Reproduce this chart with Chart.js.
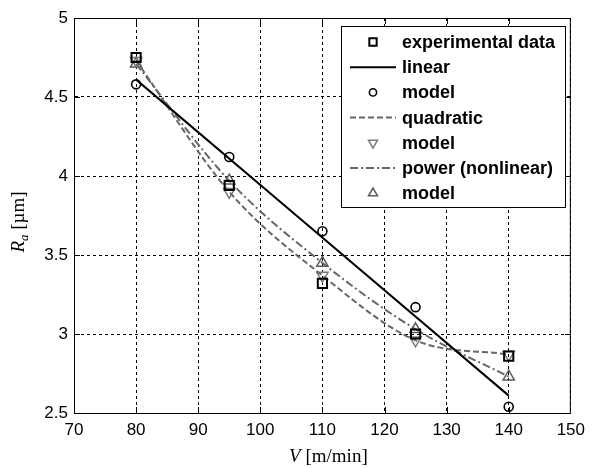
<!DOCTYPE html>
<html>
<head>
<meta charset="utf-8">
<script src="https://cdn.jsdelivr.net/npm/chart.js@4/dist/chart.umd.min.js"></script>
<style>
  html, body { margin: 0; padding: 0; background: #fff; }
  #wrap { width: 592px; height: 468px; }
</style>
</head>
<body>
<div id="wrap"><canvas id="chart" width="592" height="468"></canvas></div>
<script>
// Surface roughness Ra vs cutting speed V
const speeds = [80, 95, 110, 125, 140];
const experimental = [4.75, 3.94, 3.32, 3.00, 2.86];
const linearModel = [4.58, 4.12, 3.65, 3.17, 2.54];
const linearFitV = [80, 140];
const linearFitRa = [4.61, 2.61];
const quadraticModel = [4.73, 3.90, 3.37, 2.96, 2.87];
const powerModel = [4.71, 3.97, 3.45, 3.03, 2.73];
const xTicks = [70, 80, 90, 100, 110, 120, 130, 140, 150];
const yTicks = [2.5, 3, 3.5, 4, 4.5, 5];
const legendLabels = ['experimental data', 'linear', 'model', 'quadratic', 'model', 'power (nonlinear)', 'model'];

const SANS = '"Liberation Sans", Arial, sans-serif';
const LEGEND_FONT = 'bold 18px ' + SANS;
const SERIF = '"Liberation Serif", "Times New Roman", serif';

const toPoints = (xs, ys) => xs.map((x, i) => ({ x, y: ys[i] }));

const styles = [
  { kind: 'marker', pointStyle: 'rect', radius: 6.5, rotation: 0, color: '#000', width: 2 },
  { kind: 'line', color: '#000', width: 2, dash: [] },
  { kind: 'marker', pointStyle: 'circle', radius: 4.5, rotation: 0, color: '#000', width: 1.6 },
  { kind: 'line', color: '#666', width: 2, dash: [6, 3] },
  { kind: 'marker', pointStyle: 'triangle', radius: 6.5, rotation: 180, color: '#7a7a7a', width: 1.5 },
  { kind: 'line', color: '#666', width: 2, dash: [8, 3, 2, 3] },
  { kind: 'marker', pointStyle: 'triangle', radius: 6.5, rotation: 0, color: '#5a5a5a', width: 1.5 }
];

function markerSet(data, s) {
  return {
    data, showLine: false, pointStyle: s.pointStyle, pointRadius: s.radius,
    pointRotation: s.rotation, pointBorderColor: s.color, pointBorderWidth: s.width,
    pointBackgroundColor: 'rgba(0,0,0,0)', borderColor: s.color
  };
}
function lineSet(data, s) {
  return {
    data, showLine: true, borderColor: s.color, borderWidth: s.width, borderDash: s.dash,
    pointRadius: 0, cubicInterpolationMode: 'monotone', fill: false
  };
}

const frameTicks = {
  id: 'frameTicks',
  beforeDatasetsDraw(chart) {
    const { ctx, chartArea: a, scales: { x, y } } = chart;
    ctx.save();
    ctx.strokeStyle = '#000';
    ctx.lineWidth = 1;
    ctx.strokeRect(a.left + 0.5, a.top + 0.5, a.right - a.left - 1, a.bottom - a.top);
    ctx.beginPath();
    xTicks.slice(1, -1).forEach(v => {
      const px = Math.round(x.getPixelForValue(v)) + 0.5;
      ctx.moveTo(px, a.bottom); ctx.lineTo(px, a.bottom - 6);
      ctx.moveTo(px, a.top); ctx.lineTo(px, a.top + 6);
    });
    yTicks.slice(1, -1).forEach(v => {
      const py = Math.round(y.getPixelForValue(v)) + 0.5;
      ctx.moveTo(a.left, py); ctx.lineTo(a.left + 6, py);
      ctx.moveTo(a.right, py); ctx.lineTo(a.right - 6, py);
    });
    ctx.stroke();
    ctx.restore();
  }
};

const legendAndTitles = {
  id: 'legendAndTitles',
  afterDraw(chart) {
    const { ctx, chartArea: a } = chart;
    ctx.save();
    // legend box
    const bx = a.left + 267, by = a.top + 8, bw = 224, bh = 181;
    ctx.fillStyle = '#fff';
    ctx.fillRect(bx, by, bw, bh);
    ctx.strokeStyle = '#000';
    ctx.lineWidth = 1;
    ctx.strokeRect(bx + 0.5, by + 0.5, bw, bh);
    legendLabels.forEach((label, i) => {
      const cy = by + 16 + i * 25.2;
      const s = styles[i];
      if (s.kind === 'line') {
        ctx.save();
        ctx.strokeStyle = s.color;
        ctx.lineWidth = s.width;
        ctx.setLineDash(s.dash);
        ctx.beginPath();
        ctx.moveTo(bx + 9, cy); ctx.lineTo(bx + 55, cy);
        ctx.stroke();
        ctx.restore();
      } else {
        ctx.save();
        ctx.strokeStyle = s.color;
        ctx.fillStyle = 'rgba(0,0,0,0)';
        ctx.lineWidth = s.width;
        Chart.helpers.drawPoint(ctx, {
          pointStyle: s.pointStyle, radius: s.radius * 0.8, rotation: s.rotation, borderWidth: s.width
        }, bx + 32, cy);
        ctx.restore();
      }
      ctx.fillStyle = '#000';
      ctx.font = LEGEND_FONT;
      ctx.textBaseline = 'middle';
      ctx.textAlign = 'left';
      ctx.fillText(label, bx + 61, cy + 1);
    });

    // x title: V [m/min]
    ctx.fillStyle = '#000';
    ctx.textBaseline = 'alphabetic';
    ctx.textAlign = 'left';
    const xt1 = 'V', xt2 = ' [m/min]';
    ctx.font = 'italic 19px ' + SERIF;
    const w1 = ctx.measureText(xt1).width;
    ctx.font = '19px ' + SERIF;
    const w2 = ctx.measureText(xt2).width;
    const xStart = (a.left + a.right) / 2 + 6 - (w1 + w2) / 2;
    const xBase = 462;
    ctx.font = 'italic 19px ' + SERIF;
    ctx.fillText(xt1, xStart, xBase);
    ctx.font = '19px ' + SERIF;
    ctx.fillText(xt2, xStart + w1, xBase);

    // y title: R_a [µm]
    ctx.save();
    ctx.translate(24, 222);
    ctx.rotate(-Math.PI / 2);
    ctx.font = 'italic 19px ' + SERIF;
    const r1 = ctx.measureText('R').width;
    ctx.font = 'italic 13px ' + SERIF;
    const r2 = ctx.measureText('a').width;
    ctx.font = '19px ' + SERIF;
    const r3 = ctx.measureText(' [\u00b5m]').width;
    let tx = -(r1 + r2 + r3) / 2;
    ctx.font = 'italic 19px ' + SERIF;
    ctx.fillText('R', tx, 0);
    ctx.font = 'italic 13px ' + SERIF;
    ctx.fillText('a', tx + r1, 4);
    ctx.font = '19px ' + SERIF;
    ctx.fillText(' [\u00b5m]', tx + r1 + r2, 0);
    ctx.restore();
    ctx.restore();
  }
};

new Chart(document.getElementById('chart'), {
  type: 'line',
  data: {
    datasets: [
      markerSet(toPoints(speeds, experimental), styles[0]),
      lineSet(toPoints(linearFitV, linearFitRa), styles[1]),
      markerSet(toPoints(speeds, linearModel), styles[2]),
      lineSet(toPoints(speeds, quadraticModel), styles[3]),
      markerSet(toPoints(speeds, quadraticModel), styles[4]),
      lineSet(toPoints(speeds, powerModel), styles[5]),
      markerSet(toPoints(speeds, powerModel), styles[6])
    ]
  },
  options: {
    responsive: false,
    animation: false,
    devicePixelRatio: 1,
    layout: { padding: { top: 18, right: 16, left: 0, bottom: 0 } },
    plugins: { legend: { display: false }, tooltip: { enabled: false } },
    scales: {
      x: {
        type: 'linear', min: 70, max: 150,
        afterBuildTicks: (s) => { s.ticks = xTicks.map(v => ({ value: v })); },
        afterFit: (s) => { s.height = 55; },
        ticks: { color: '#000', font: { family: SANS, size: 17 }, padding: 7, maxRotation: 0,
                 callback: (v) => String(v) },
        grid: { color: '#000', lineWidth: 1, drawTicks: false },
        border: { display: true, color: '#000', width: 1, dash: [3, 3] }
      },
      y: {
        type: 'linear', min: 2.5, max: 5,
        afterBuildTicks: (s) => { s.ticks = yTicks.map(v => ({ value: v })); },
        afterFit: (s) => { s.width = 74; },
        ticks: { color: '#000', font: { family: SANS, size: 17 }, padding: 6,
                 callback: (v) => String(v) },
        grid: { color: '#000', lineWidth: 1, drawTicks: false },
        border: { display: true, color: '#000', width: 1, dash: [3, 3] }
      }
    }
  },
  plugins: [frameTicks, legendAndTitles]
});
</script>
</body>
</html>
